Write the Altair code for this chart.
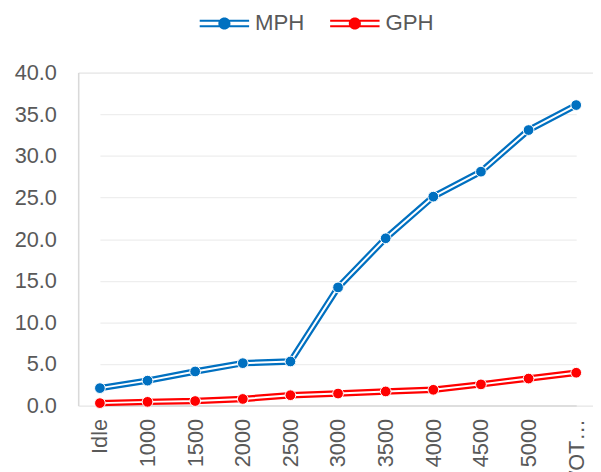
import altair as alt
import pandas as pd

categories = ["Idle", "1000", "1500", "2000", "2500", "3000", "3500", "4000", "4500", "5000", "WOT…"]
mph = [2.1, 3.0, 4.1, 5.1, 5.3, 14.2, 20.1, 25.1, 28.1, 33.1, 36.1]
gph = [0.3, 0.45, 0.55, 0.8, 1.25, 1.45, 1.7, 1.9, 2.55, 3.25, 3.95]
series_names = ["MPH", "GPH"]
series_colors = ["#0070C0", "#FF0000"]
y_ticks = [0, 5, 10, 15, 20, 25, 30, 35, 40]

rows = []
for name, vals in zip(series_names, [mph, gph]):
    for c, v in zip(categories, vals):
        rows.append({"rpm": c, "series": name, "value": v})
df = pd.DataFrame(rows)

FONT = "Liberation Sans"
TXT = "#595959"

x_enc = alt.X("rpm:N", sort=categories,
              scale=alt.Scale(type="point", range=[22, 504], padding=0),
              axis=alt.Axis(title=None, labelAngle=-90, labelPadding=13, ticks=False,
                            domainColor="#D9D9D9", domainWidth=1.5, grid=False,
                            labelFontSize=22, labelColor=TXT, labelFont=FONT))
y_enc = alt.Y("value:Q", scale=alt.Scale(domain=[0, 40], nice=False),
              axis=alt.Axis(title=None, values=y_ticks, format=".1f", ticks=False,
                            labelPadding=22, domainColor="#D9D9D9", domainWidth=1.5,
                            gridColor="#EEEEEE", gridWidth=1.3,
                            labelFontSize=22, labelColor=TXT, labelFont=FONT))
color_scale = alt.Scale(domain=series_names, range=series_colors)
# stroke scale for the lines: data-derived (alphabetical) domain GPH, MPH
stroke_scale = alt.Scale(range=[series_colors[1], series_colors[0]])

base = alt.Chart(df)

line_col = base.mark_line(strokeWidth=6.5, strokeJoin="round").encode(
    x=x_enc, y=y_enc,
    stroke=alt.Stroke("series:N", scale=stroke_scale, legend=None),
    detail="series:N")
line_white = base.mark_line(strokeWidth=2, color="white", strokeJoin="round").encode(
    x=x_enc, y=y_enc, detail="series:N")

legend_path = ("M-1,-0.15H1V-0.07H-1Z M-1,0.07H1V0.15H-1Z "
               "M-0.245,0A0.245,0.245 0 1,1 0.245,0A0.245,0.245 0 1,1 -0.245,0Z")

points = base.mark_circle(size=118, stroke="white", strokeWidth=1, opacity=1).encode(
    x=x_enc, y=y_enc,
    color=alt.Color("series:N", scale=color_scale, sort=series_names,
                    legend=alt.Legend(title=None, orient="none", direction="horizontal",
                                      columns=2, legendX=123, legendY=-75,
                                      symbolType=legend_path, symbolSize=2500,
                                      symbolStrokeWidth=0, symbolOpacity=1,
                                      labelOffset=6, columnPadding=26, padding=0,
                                      labelFontSize=22.5, labelColor=TXT, labelFont=FONT)))

chart = alt.layer(line_col, line_white, points).properties(
    width=521, height=337,
    autosize=alt.AutoSizeParams(type="none"),
    padding={"left": 71, "top": 62.6, "right": 0, "bottom": 64},
).configure_view(stroke=None).configure(background="white")

chart.save("out.html", embed_options={"renderer": "svg", "actions": False})
